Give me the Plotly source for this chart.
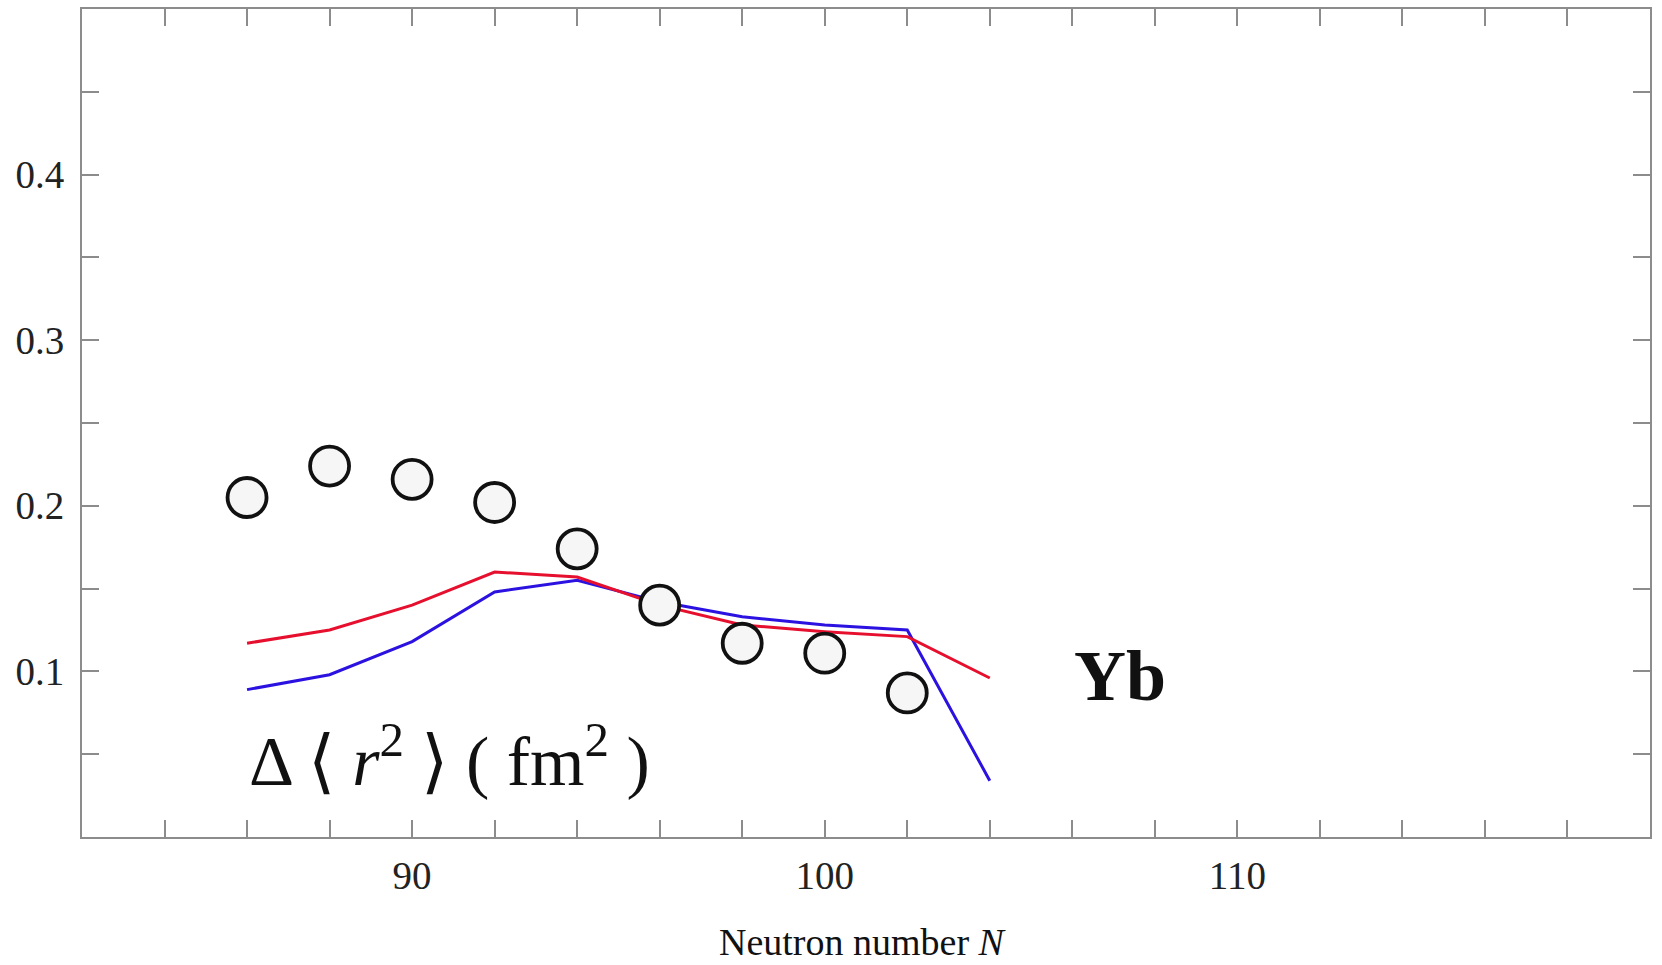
import plotly.graph_objects as go

# ---- data ----
n_exp = [86, 88, 90, 92, 94, 96, 98, 100, 102]
dr2_exp = [0.205, 0.224, 0.216, 0.202, 0.174, 0.140, 0.117, 0.111, 0.087]

n_th = [86, 88, 90, 92, 94, 96, 98, 100, 102, 104]
dr2_red = [0.117, 0.125, 0.140, 0.160, 0.157, 0.140, 0.128, 0.124, 0.121, 0.096]
dr2_blue = [0.089, 0.098, 0.118, 0.148, 0.155, 0.142, 0.133, 0.128, 0.125, 0.034]

x_ticks = list(range(82, 121, 2))
x_ticklabels = [str(v) if v in (90, 100, 110) else " " for v in x_ticks]
y_ticks = [0.05, 0.10, 0.15, 0.20, 0.25, 0.30, 0.35, 0.40, 0.45]
y_ticklabels = [" ", "0.1", " ", "0.2", " ", "0.3", " ", "0.4", " "]

FONT = "Liberation Serif, Times New Roman, serif"
AX = "#8c8c8c"

fig = go.Figure()
fig.add_trace(go.Scatter(x=n_th, y=dr2_blue, mode="lines",
                         line=dict(color="#2b12e0", width=3), showlegend=False))
fig.add_trace(go.Scatter(x=n_th, y=dr2_red, mode="lines",
                         line=dict(color="#e6102e", width=3), showlegend=False))
fig.add_trace(go.Scatter(x=n_exp, y=dr2_exp, mode="markers",
                         marker=dict(symbol="circle", size=39, color="#f6f6f6",
                                     line=dict(color="#111111", width=3.8)),
                         showlegend=False))

fig.add_annotation(x=107.15, y=0.097, xref="x", yref="y", text="<b>Yb</b>",
                   showarrow=False, xanchor="center", yanchor="middle",
                   font=dict(family=FONT, size=72, color="#111111"))
fig.add_annotation(x=86.0, y=0.049, xref="x", yref="y",
                   text="Δ ⟨ <i>r</i><sup>2</sup> ⟩ ( fm<sup>2</sup> )",
                   showarrow=False, xanchor="left", yanchor="middle",
                   font=dict(family=FONT, size=70, color="#111111"))
fig.add_annotation(x=0.5, y=-0.127, xref="paper", yref="paper",
                   text="Neutron number <i>N</i> ",
                   showarrow=False, xanchor="center", yanchor="middle",
                   font=dict(family=FONT, size=38, color="#111111"))

fig.update_xaxes(range=[82, 120], tickmode="array", tickvals=x_ticks,
                 ticktext=x_ticklabels, ticks="inside", ticklen=17, tickwidth=2,
                 tickcolor=AX, showline=True, linecolor=AX, linewidth=2,
                 mirror="ticks", showgrid=False, zeroline=False,
                 tickfont=dict(family=FONT, size=39, color="#222222"),
                 ticklabelstandoff=3)
fig.update_yaxes(range=[0, 0.5], tickmode="array", tickvals=y_ticks,
                 ticktext=y_ticklabels, ticks="inside", ticklen=17, tickwidth=2,
                 tickcolor=AX, showline=True, linecolor=AX, linewidth=2,
                 mirror="ticks", showgrid=False, zeroline=False,
                 tickfont=dict(family=FONT, size=39, color="#222222"),
                 ticklabelstandoff=8)

fig.update_layout(width=1662, height=965, plot_bgcolor="white",
                  paper_bgcolor="white",
                  margin=dict(l=82, r=7, t=8, b=128))

fig.write_html("out.html")
